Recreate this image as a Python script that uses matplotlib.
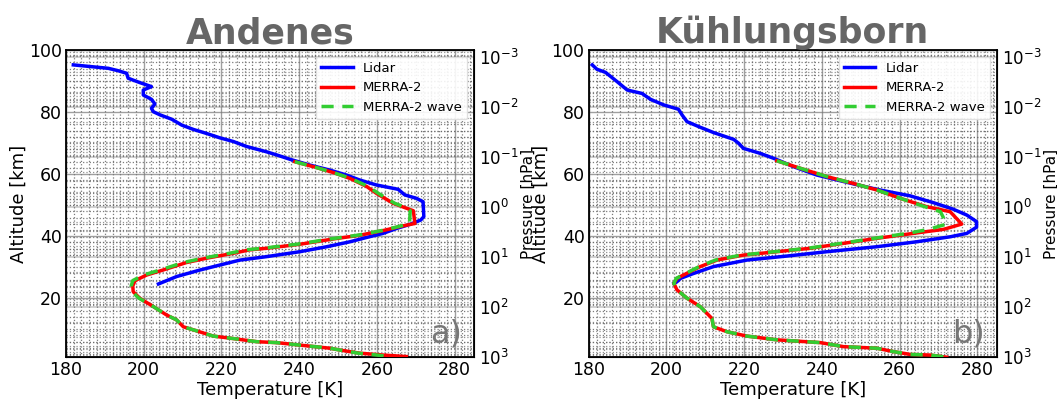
import numpy as np
import matplotlib
matplotlib.use("Agg")
import matplotlib.pyplot as plt
from matplotlib.ticker import MultipleLocator, LogLocator, NullFormatter

# ---------------- data ----------------
titles = ["Andenes", "Kühlungsborn"]
panel_labels = ["a)", "b)"]

# Andenes
and_lidar_T = [181.9, 190.9, 193.5, 195.6, 196.0, 199.0, 202.0, 199.9, 199.9, 202.0, 202.9, 202.0,
               202.5, 204.2, 207.2, 209.8, 212.8, 216.2, 219.6, 223.1, 226.5, 231.6, 234.2, 237.6,
               242.8, 247.9, 252.2, 255.6, 259.9, 265.5, 267.2, 270.2, 271.9, 272.1, 271.3, 268.5,
               265.1, 261.6, 257.4, 253.1, 247.1, 240.2, 231.6, 224.8, 219.6, 214.5, 208.5, 203.8]
and_lidar_z = [95.2, 94.1, 93.3, 92.5, 90.9, 89.5, 88.2, 87.1, 85.5, 84.1, 82.6, 81.2,
               80.1, 79.1, 77.7, 75.8, 74.4, 73.1, 71.7, 70.5, 68.9, 67.2, 66.2, 64.8,
               62.9, 61.3, 59.7, 58.1, 56.5, 55.1, 53.3, 52.2, 51.1, 46.3, 45.2, 43.8,
               42.5, 40.9, 39.6, 38.2, 36.6, 35.0, 33.4, 32.3, 30.7, 29.1, 27.0, 24.6]

and_merra_T = [238.9, 244.5, 248.8, 253.1, 257.4, 259.9, 264.2, 267.2, 269.4, 269.8, 265.9, 261.6,
               255.6, 248.8, 240.2, 231.6, 227.3, 223.1, 216.2, 211.0, 205.0, 200.8, 197.8, 197.2,
               197.3, 199.0, 202.5, 205.9, 208.5, 210.2, 213.6, 217.9, 223.1, 229.1, 234.2, 240.2,
               247.9, 250.5, 255.6, 261.6, 267.6]
and_merra_z = [64.0, 62.1, 60.5, 58.6, 56.0, 53.8, 50.6, 49.2, 48.2, 44.1, 43.1, 41.8,
               40.3, 39.1, 37.4, 36.1, 35.6, 34.5, 32.9, 31.5, 29.1, 27.5, 25.7, 24.0,
               22.1, 20.0, 17.3, 14.6, 13.0, 10.8, 9.5, 7.8, 7.0, 6.0, 5.7, 4.9,
               3.9, 3.3, 2.3, 1.7, 1.2]

and_wave_T = [238.9, 244.5, 248.8, 253.3, 257.8, 260.4, 264.6, 267.5, 268.6, 268.4, 265.6, 261.2,
              255.0, 248.0, 239.4, 230.6, 226.3, 222.1, 215.2, 210.2, 204.2, 200.0, 197.2, 196.8,
              197.0, 198.8, 202.5, 205.9, 208.5, 210.2, 213.6, 217.9, 223.1, 229.1, 234.2, 240.2,
              247.9, 250.5, 255.2, 260.0, 263.0]
and_wave_z = and_merra_z

# Kühlungsborn
kb_lidar_T = [180.9, 182.1, 184.3, 187.3, 189.9, 193.7, 195.9, 199.3, 203.1, 204.0, 205.3, 208.7,
              212.1, 217.3, 218.6, 219.8, 224.1, 228.0, 232.7, 238.7, 245.6, 254.1, 262.7, 268.7,
              273.8, 277.3, 279.8, 279.8, 277.3, 273.0, 264.4, 254.1, 241.3, 231.0, 220.7, 212.1,
              207.0, 203.6, 202.7, 201.9]
kb_lidar_z = [95.2, 93.8, 92.8, 89.8, 87.1, 86.0, 84.1, 82.3, 80.9, 79.1, 76.9, 75.1,
              73.4, 71.2, 69.9, 68.3, 66.7, 64.9, 62.4, 59.7, 57.6, 55.1, 53.0, 50.8,
              48.7, 46.8, 44.7, 42.9, 40.9, 39.8, 38.2, 36.6, 35.0, 33.6, 32.3, 30.2,
              28.0, 26.4, 25.3, 24.8]

kb_merra_T = [228.4, 234.4, 241.3, 248.1, 254.1, 260.9, 267.0, 273.0, 276.0, 271.3, 263.5, 254.1,
              245.6, 237.0, 228.4, 219.8, 213.0, 208.7, 204.4, 202.7, 201.9, 202.7, 205.3, 208.7,
              211.7, 212.1, 215.6, 220.7, 228.4, 239.6, 245.6, 254.1, 258.4, 262.7, 267.8, 272.1]
kb_merra_z = [64.3, 61.9, 59.2, 57.0, 54.9, 51.9, 49.5, 47.9, 43.9, 42.2, 40.9, 39.3,
              37.7, 36.1, 35.0, 33.9, 32.3, 30.2, 27.5, 26.4, 24.8, 22.7, 20.0, 17.3,
              13.5, 10.8, 9.2, 7.8, 6.6, 5.7, 4.4, 3.9, 2.8, 1.9, 1.7, 1.0]

kb_wave_T = [228.4, 234.4, 241.3, 248.1, 254.1, 260.9, 266.5, 270.5, 272.1, 267.5, 262.0, 253.5,
             245.0, 236.4, 227.8, 219.2, 212.6, 208.4, 204.2, 202.5, 201.9, 202.7, 205.3, 208.7,
             211.7, 212.1, 215.6, 220.7, 228.4, 239.6, 245.6, 254.1, 258.4, 262.7, 267.8, 272.1]
kb_wave_z = kb_merra_z

panels = [
    (and_lidar_T, and_lidar_z, and_merra_T, and_merra_z, and_wave_T, and_wave_z),
    (kb_lidar_T, kb_lidar_z, kb_merra_T, kb_merra_z, kb_wave_T, kb_wave_z),
]

x_ticks = [180, 200, 220, 240, 260, 280]
y_ticks = [20, 40, 60, 80, 100]

# ---------------- plot ----------------
fig = plt.figure(figsize=(10.57, 4.0), dpi=100)
ax_pos = [[0.0624, 0.107, 0.386, 0.768], [0.557, 0.107, 0.386, 0.768]]

zmin, zmax = 1.0, 100.0
H = 7.0
p_bot = 1000.0
p_top = p_bot * np.exp(-(zmax - zmin) / H)

for i, (lT, lz, mT, mz, wT, wz) in enumerate(panels):
    ax = fig.add_axes(ax_pos[i])
    ax2 = ax.twinx()
    ax2.set_yscale("log")
    ax2.set_ylim(p_bot, p_top)
    ax2.yaxis.set_major_locator(LogLocator(base=10, numticks=15))
    ax2.yaxis.set_minor_locator(LogLocator(base=10, subs=np.arange(2, 10), numticks=15))
    ax2.yaxis.set_minor_formatter(NullFormatter())
    ax2.grid(True, which="major", color="#999999", linestyle="-", linewidth=1.4, alpha=0.45)
    ax2.grid(True, which="minor", color="#777777", linestyle=":", linewidth=0.9, alpha=0.8)
    ax2.tick_params(axis="y", which="both", direction="in", labelsize=12, length=0)
    ax2.set_ylabel("Pressure [hPa]", fontsize=11, labelpad=2)
    ax2.set_zorder(0)

    ax.set_zorder(1)
    ax.patch.set_visible(False)
    ax.plot(lT, lz, color="blue", lw=2.5, label="Lidar", zorder=3)
    ax.plot(mT, mz, color="red", lw=2.5, label="MERRA-2", zorder=4)
    ax.plot(wT, wz, color="limegreen", lw=2.5, ls=(0, (3.5, 2.5)), label="MERRA-2 wave", zorder=5)
    ax.set_xlim(180, 285)
    ax.set_ylim(zmin, zmax)
    ax.set_xticks(x_ticks)
    ax.set_yticks(y_ticks)
    ax.xaxis.set_minor_locator(MultipleLocator(2))
    ax.yaxis.set_minor_locator(MultipleLocator(2))
    ax.grid(True, which="major", color="#777777", linestyle="-", linewidth=1.0, alpha=0.7)
    ax.grid(True, which="minor", color="#666666", linestyle=":", linewidth=0.9, alpha=0.85)
    ax.tick_params(which="both", direction="in", labelsize=12.5, length=0, pad=3)
    ax.set_xlabel("Temperature [K]", fontsize=13, labelpad=1)
    ax.set_ylabel("Altitude [km]", fontsize=13, labelpad=1)
    for sp in ax.spines.values():
        sp.set_linewidth(1.3)
        sp.set_color("black")
    ax.set_title(titles[i], fontsize=25, fontweight="bold", color="#666666", pad=4)
    ax.text(0.97, 0.025, panel_labels[i], transform=ax.transAxes, ha="right", va="bottom",
            fontsize=23, color="#777777", zorder=6)
    ax.legend(loc="upper right", fontsize=9.5, framealpha=0.9, edgecolor="#dddddd",
              fancybox=True, handlelength=2.4, borderaxespad=0.5)

fig.savefig("out.png", dpi=100)
